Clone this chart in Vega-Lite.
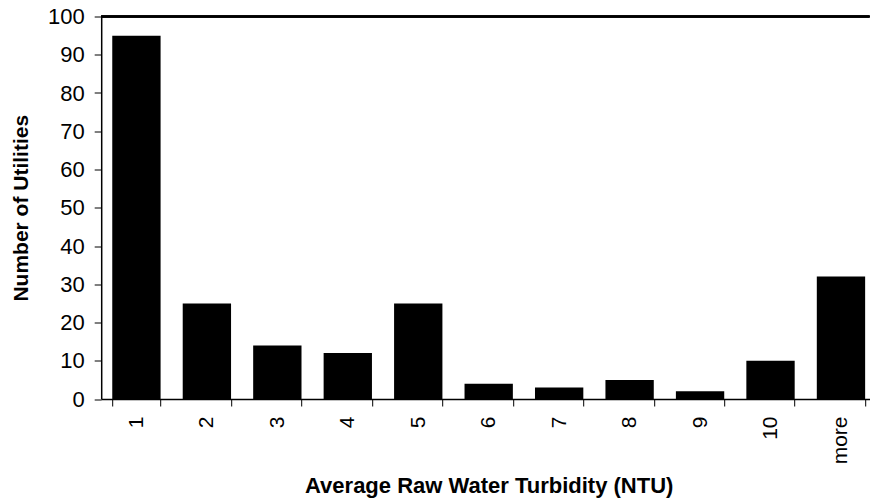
{
  "$schema": "https://vega.github.io/schema/vega-lite/v6.json",
  "width": 768.3,
  "height": 382.5,
  "autosize": "none",
  "padding": {"left": 101.2, "top": 16.5, "right": 0, "bottom": 101},
  "background": "white",
  "config": {
    "view": {"stroke": null},
    "font": "Liberation Sans",
    "axis": {
      "titleFontSize": 21,
      "titleFontWeight": "bold",
      "titleColor": "black",
      "titleBaseline": "alphabetic",
      "labelColor": "black",
      "labelPadding": 10,
      "labelOverlap": false,
      "tickSize": 7,
      "tickColor": "black",
      "domainColor": "black",
      "domainWidth": 1.5,
      "grid": false
    },
    "axisX": {"labelFontSize": 21, "labelAngle": -90, "titleY": 93, "titleFontSize": 22},
    "axisY": {"labelFontSize": 22, "titleX": -74.2}
  },
  "data": {
    "values": [
      {"bin": "1", "count": 95},
      {"bin": "2", "count": 25},
      {"bin": "3", "count": 14},
      {"bin": "4", "count": 12},
      {"bin": "5", "count": 25},
      {"bin": "6", "count": 4},
      {"bin": "7", "count": 3},
      {"bin": "8", "count": 5},
      {"bin": "9", "count": 2},
      {"bin": "10", "count": 10},
      {"bin": "more", "count": 32}
    ]
  },
  "layer": [
    {
      "mark": {"type": "bar", "color": "black"},
      "encoding": {
        "x": {
          "field": "bin",
          "type": "ordinal",
          "sort": null,
          "scale": {"range": [0, 775], "paddingInner": 0.314, "paddingOuter": 0.157},
          "axis": {
            "title": "Average Raw Water Turbidity (NTU)",
            "tickBand": "extent"
          }
        },
        "y": {
          "field": "count",
          "type": "quantitative",
          "scale": {"domain": [0, 100], "nice": false},
          "axis": {
            "title": "Number of Utilities",
            "values": [0, 10, 20, 30, 40, 50, 60, 70, 80, 90, 100]
          }
        }
      }
    },
    {
      "mark": {"type": "rule", "color": "black", "strokeWidth": 1.5},
      "encoding": {
        "y": {
          "datum": 100,
          "type": "quantitative",
          "axis": {
            "title": "Number of Utilities",
            "values": [0, 10, 20, 30, 40, 50, 60, 70, 80, 90, 100]
          }
        }
      }
    }
  ]
}
